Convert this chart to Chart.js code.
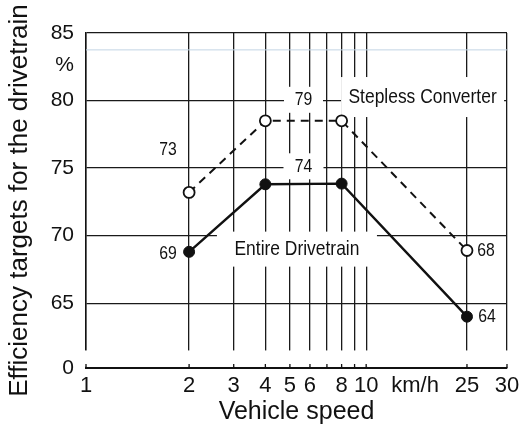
<!DOCTYPE html>
<html>
<head>
<meta charset="utf-8">
<script src="https://cdn.jsdelivr.net/npm/chart.js@4"></script>
<style>
html,body{margin:0;padding:0;background:#fff;}
#wrap{width:525px;height:427px;position:relative;}
</style>
</head>
<body>
<div id="wrap"><canvas id="c" width="525" height="427"></canvas></div>
<script>
// ---- data ----
const speeds = [2, 4, 8, 25];
const steplessValues = [73.2, 78.5, 78.5, 68.9];
const entireValues = [68.8, 73.8, 73.85, 64.0];
const steplessLabels = ['73', '79', '', '68'];
const entireLabels = ['69', '74', '', '64'];
const xTickValues = [1, 2, 3, 4, 5, 6, 7, 8, 9, 10, 15.6, 25, 30];
const xTickLabels = ['1', '2', '3', '4', '5', '6', '', '8', '', '10', 'km/h', '25', '30'];
const yTickValues = [60.2, 65, 70, 75, 80, 82.6, 85];
const yTickLabels = ['0', '65', '70', '75', '80', '%', '85'];
const seriesNames = ['Stepless Converter', 'Entire Drivetrain'];
const referenceLineValue = 83.75;

// broken speed axis: logarithmic between 2 and 25, stretched ends
function xpos(v) {
  if (v < 2) return Math.log10(2) - (2 - v) * 0.407;
  if (v > 25) return Math.log10(25) + (v - 25) * 0.0316;
  return Math.log10(v);
}

const FONT = "'Liberation Sans', Arial, sans-serif";
const NARROW_SCALE = 0.83;

const decor = {
  id: 'decor',
  beforeDatasetsDraw(chart) {
    const ctx = chart.ctx, a = chart.chartArea;
    const xs = chart.scales.x, ys = chart.scales.y;
    ctx.save();
    // faint reference line
    const ry = ys.getPixelForValue(referenceLineValue);
    ctx.strokeStyle = '#c3d4e4';
    ctx.lineWidth = 1;
    ctx.beginPath(); ctx.moveTo(a.left, ry); ctx.lineTo(a.right, ry); ctx.stroke();
    // break gap above the speed axis
    ctx.fillStyle = '#fff';
    ctx.fillRect(a.left - 2, ys.getPixelForValue(61.5), a.right - a.left + 4, ys.getPixelForValue(60.2) - ys.getPixelForValue(61.5) - 1.2);
    // small ticks on the speed axis
    ctx.strokeStyle = '#111';
    ctx.lineWidth = 1.3;
    const by = a.bottom;
    xTickValues.forEach((v, i) => {
      if (xTickLabels[i] === 'km/h') return;
      const px = xs.getPixelForValue(xpos(v));
      ctx.beginPath(); ctx.moveTo(px, by); ctx.lineTo(px, by - 4); ctx.stroke();
    });
    // white label boxes
    ctx.fillStyle = '#fff';
    boxes(chart).forEach(b => {
      ctx.fillRect(b.cx - b.w / 2, b.cy - b.h / 2, b.w, b.h);
    });
    ctx.restore();
  },
  afterDatasetsDraw(chart) {
    const ctx = chart.ctx;
    boxes(chart).concat(plainLabels(chart)).forEach(b => {
      ctx.save();
      ctx.fillStyle = '#111';
      ctx.textAlign = 'center';
      ctx.textBaseline = 'middle';
      ctx.font = b.font;
      ctx.translate(b.cx, b.cy);
      ctx.scale(NARROW_SCALE, 1);
      ctx.fillText(b.text, 0, 0);
      ctx.restore();
    });
  }
};

function pts(chart, di) {
  return chart.getDatasetMeta(di).data;
}

function boxes(chart) {
  const xs = chart.scales.x, ys = chart.scales.y;
  const s = pts(chart, 0), e = pts(chart, 1);
  const out = [];
  const midX = (s[1].x + s[2].x) / 2;
  out.push({text: steplessLabels[1], cx: midX, cy: s[1].y - 21, w: 39, h: 26, font: '19px ' + FONT});
  out.push({text: entireLabels[1], cx: midX, cy: e[1].y - 18, w: 40, h: 26, font: '19px ' + FONT});
  out.push({text: seriesNames[0], cx: xs.getPixelForValue(xpos(16.7)), cy: ys.getPixelForValue(80.26), w: 163, h: 40, font: '21px ' + FONT});
  out.push({text: seriesNames[1], cx: xs.getPixelForValue(xpos(5.33)), cy: ys.getPixelForValue(69.0), w: 160, h: 35, font: '21px ' + FONT});
  return out;
}

function plainLabels(chart) {
  const s = pts(chart, 0), e = pts(chart, 1);
  const f = '19px ' + FONT;
  return [
    {text: steplessLabels[0], cx: s[0].x - 21, cy: s[0].y - 43, font: f},
    {text: steplessLabels[3], cx: s[3].x + 19, cy: s[3].y, font: f},
    {text: entireLabels[0], cx: e[0].x - 21, cy: e[0].y + 2, font: f},
    {text: entireLabels[3], cx: e[3].x + 20, cy: e[3].y, font: f}
  ];
}

new Chart(document.getElementById('c'), {
  type: 'line',
  data: {
    datasets: [
      {
        label: seriesNames[0],
        data: speeds.map((v, i) => ({x: xpos(v), y: steplessValues[i]})),
        borderColor: '#111', borderWidth: 2, borderDash: [8, 6],
        pointRadius: 5.5, pointBackgroundColor: '#fff', pointBorderColor: '#111', pointBorderWidth: 1.8,
        tension: 0, fill: false
      },
      {
        label: seriesNames[1],
        data: speeds.map((v, i) => ({x: xpos(v), y: entireValues[i]})),
        borderColor: '#111', borderWidth: 2.4,
        pointRadius: 5.5, pointBackgroundColor: '#111', pointBorderColor: '#111', pointBorderWidth: 1,
        tension: 0, fill: false
      }
    ]
  },
  options: {
    responsive: false,
    animation: false,
    layout: {padding: {top: 33, right: 18, left: 0, bottom: 0}},
    plugins: {legend: {display: false}, tooltip: {enabled: false}},
    scales: {
      x: {
        type: 'linear',
        min: xpos(1), max: xpos(30),
        afterBuildTicks: s => { s.ticks = xTickValues.map(v => ({value: xpos(v)})); },
        afterFit: s => { s.height = 59; },
        ticks: {
          autoSkip: false, maxRotation: 0, padding: 5,
          color: '#111', font: {family: FONT, size: 22},
          callback: (v, i) => xTickLabels[i]
        },
        grid: {
          drawTicks: false, lineWidth: 1.3,
          color: c => (xTickLabels[c.index] === 'km/h' ? 'rgba(0,0,0,0)' : '#1a1a1a')
        },
        border: {display: true, color: '#111', width: 2},
        title: {display: true, text: 'Vehicle speed', color: '#111', font: {family: FONT, size: 25}, padding: {top: 0, bottom: 0}}
      },
      y: {
        type: 'linear',
        min: 60.2, max: 85,
        afterBuildTicks: s => { s.ticks = yTickValues.map(v => ({value: v})); },
        afterFit: s => { s.width = 86; },
        ticks: {
          autoSkip: false, padding: 12,
          color: '#111', font: {family: FONT, size: 21},
          callback: (v, i) => yTickLabels[i]
        },
        grid: {
          drawTicks: false, lineWidth: 1.3,
          color: c => ((yTickLabels[c.index] === '0' || yTickLabels[c.index] === '%') ? 'rgba(0,0,0,0)' : '#1a1a1a')
        },
        border: {display: true, color: '#111', width: 1.5},
        title: {display: true, text: 'Efficiency targets for the drivetrain', color: '#111', font: {family: FONT, size: 26}, padding: {top: 4, bottom: 0}}
      }
    }
  },
  plugins: [decor]
});
</script>
</body>
</html>
